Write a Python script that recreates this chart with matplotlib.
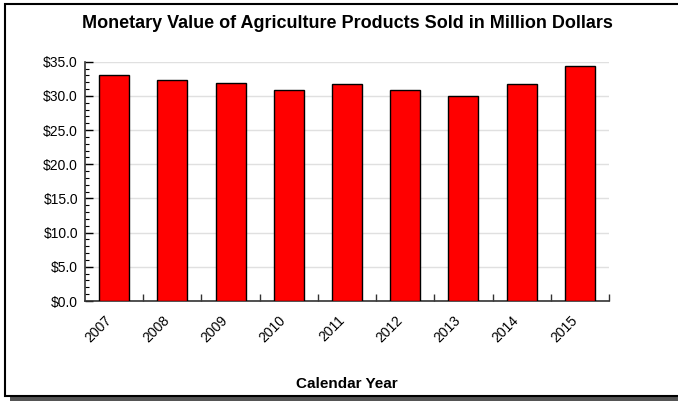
import matplotlib.pyplot as plt
from matplotlib.ticker import MultipleLocator, FuncFormatter
from matplotlib.patches import Rectangle

#data
years = ["2007", "2008", "2009", "2010", "2011", "2012", "2013", "2014", "2015"]
values = [33.0, 32.3, 31.9, 30.8, 31.7, 30.8, 30.0, 31.8, 34.4]

plt.rcParams['font.family'] = ['Liberation Sans', 'DejaVu Sans']

fig = plt.figure(figsize=(6.78, 4.01), dpi=100)

#frame with drop shadow around the whole picture
fig.patches.append(Rectangle((10/678, 0), 1, 5/401, transform=fig.transFigure,
                             facecolor="#555555", edgecolor="none", zorder=0))
fig.patches.append(Rectangle((5/678, 5/401), 1, 392/401, transform=fig.transFigure,
                             facecolor="white", edgecolor="black", linewidth=1.5, zorder=1))

ax = fig.add_axes([85/678, 1 - 301/401, 524/678, 239.3/401])
ax.set_zorder(2)
ax.patch.set_alpha(0)

x = range(len(years))
ax.bar(x, values, width=0.515, color="#ff0000", edgecolor="black", linewidth=1, zorder=3)

ax.set_xlim(-0.5, len(years) - 0.5)
ax.set_ylim(0, 35)
ax.yaxis.set_major_locator(MultipleLocator(5))
ax.yaxis.set_minor_locator(MultipleLocator(1))
ax.yaxis.set_major_formatter(FuncFormatter(lambda v, p: "${:.1f}".format(v)))
ax.grid(axis="y", color="#e0e0e0", linewidth=1, zorder=0)

ax.set_xticks([i + 0.5 for i in x])
ax.set_xticklabels([])
ax.set_xticks(list(x), minor=True)
ax.set_xticklabels(years, minor=True, rotation=45, ha="right", va="top", fontsize=10)
ax.tick_params(axis="x", which="major", direction="in", length=5, width=1, color="#333333")
ax.tick_params(axis="x", which="minor", length=0, pad=9)
ax.tick_params(axis="y", which="major", direction="in", length=6, width=1, labelsize=10, pad=5)
ax.tick_params(axis="y", which="minor", direction="in", length=3, width=0.8)

for s in ["top", "right"]:
    ax.spines[s].set_visible(False)
for s in ["left", "bottom"]:
    ax.spines[s].set_color("#333333")
    ax.spines[s].set_linewidth(1.2)

fig.text(347/678, 1 - 24/401, "Monetary Value of Agriculture Products Sold in Million Dollars",
         ha="center", va="center", fontsize=13, fontweight="bold", zorder=5)
fig.text(347/678, 1 - 384/401, "Calendar Year", ha="center", va="center",
         fontsize=11, fontweight="bold", zorder=5)

fig.savefig("out.png", dpi=100)
